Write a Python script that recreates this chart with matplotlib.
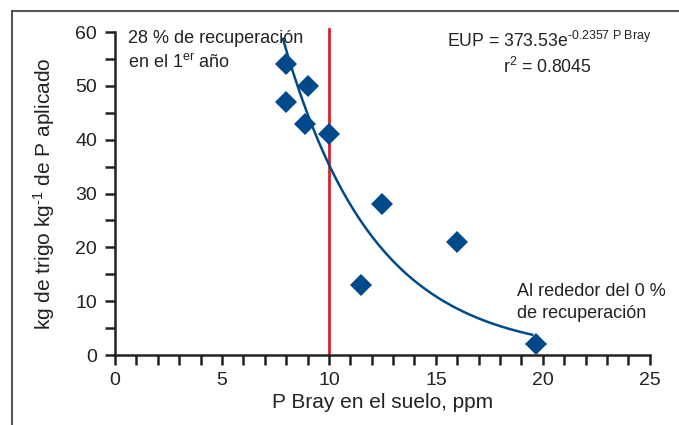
import numpy as np
import matplotlib
matplotlib.use('Agg')
import matplotlib.pyplot as plt
from matplotlib.lines import Line2D
from matplotlib.ticker import MultipleLocator

plt.rcParams['font.family'] = ['Liberation Sans', 'DejaVu Sans']
plt.rcParams['mathtext.fontset'] = 'custom'
plt.rcParams['mathtext.rm'] = 'Liberation Sans'
plt.rcParams['mathtext.it'] = 'Liberation Sans'

p_bray = [8.0, 8.0, 9.0, 8.9, 10.0, 12.5, 16.0, 11.5, 19.7]
eup = [54, 47, 50, 43, 41, 28, 21, 13, 2]
coef_a = 373.53
coef_b = -0.2357
r2 = 0.8045
umbral = 10

azul = '#004a8c'
rojo = '#d7202a'
gris = '#222222'

fig = plt.figure(figsize=(6.79, 4.25), dpi=100)
ax = fig.add_axes([0.1694, 0.1647, 0.7876, 0.76])

# curva de ajuste exponencial
xs = np.linspace(7.85, 19.5, 200)
ax.plot(xs, coef_a * np.exp(coef_b * xs), color=azul, lw=1.8, zorder=2)
ax.plot(p_bray, eup, 'D', color=azul, markersize=11, markeredgewidth=0, zorder=3)

ax.plot([umbral, umbral], [0, 60.6], color=rojo, lw=2, clip_on=False, zorder=1)

ax.set_xlim(0, 25)
ax.set_ylim(0, 60)
ax.xaxis.set_major_locator(MultipleLocator(5))
ax.xaxis.set_minor_locator(MultipleLocator(1))
ax.yaxis.set_major_locator(MultipleLocator(10))
ax.yaxis.set_minor_locator(MultipleLocator(5))
ax.tick_params(which='both', direction='out', length=7, width=1.8, color=gris,
               labelsize=14, labelcolor=gris)
ax.tick_params(axis='x', pad=5)
ax.tick_params(axis='y', pad=6)
for lado in ['top', 'right']:
    ax.spines[lado].set_visible(False)
for lado in ['left', 'bottom']:
    ax.spines[lado].set_linewidth(1.8)
    ax.spines[lado].set_color(gris)

ax.set_xlabel('P Bray en el suelo, ppm', fontsize=15, color=gris, labelpad=3)
ax.set_ylabel('kg de trigo kg$^{\\mathregular{\u20101}}$ de P aplicado', fontsize=15, color=gris, labelpad=13)

ax.text(0.6, 60.3, '28 % de recuperación\nen el 1$^{\\mathregular{er}}$ año', fontsize=13,
        color=gris, va='top', ha='left', linespacing=1.4)
ax.text(20.3, 60.2, 'EUP = %.2fe$^{\\mathregular{\u2010%.4f\\ P\\ Bray}}$' % (coef_a, -coef_b),
        fontsize=12.7, color=gris, ha='center', va='top')
ax.text(20.2, 55.3, 'r$^{\\mathregular{2}}$ = %.4f' % r2,
        fontsize=12.7, color=gris, ha='center', va='top')
ax.text(18.8, 13.4, 'Al rededor del 0 %\nde recuperación', fontsize=13,
        color=gris, va='top', ha='left', linespacing=1.4)

# marco de la figura
fig.add_artist(Line2D([12 / 679, 12 / 679], [0, 1 - 11 / 425], color='#555555', lw=1.5))
fig.add_artist(Line2D([12 / 679, 1], [1 - 11 / 425, 1 - 11 / 425], color='#555555', lw=1.5))

fig.savefig('out.png', dpi=100)
